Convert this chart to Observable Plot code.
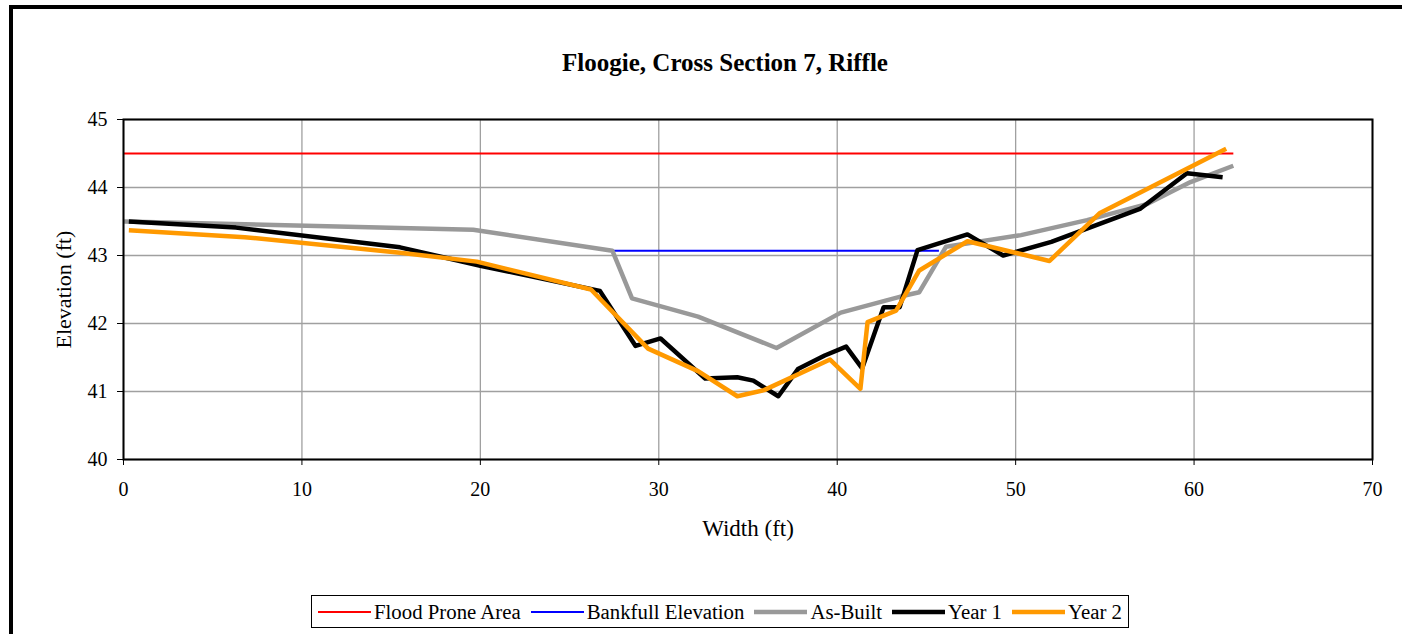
<!DOCTYPE html>
<html>
<head>
<meta charset="utf-8">
<script src="https://cdn.jsdelivr.net/npm/d3@7"></script>
<script src="https://cdn.jsdelivr.net/npm/@observablehq/plot@0.6"></script>
<style>
  html, body { margin: 0; padding: 0; background: #fff; overflow: hidden; }
  #wrap { position: relative; width: 1402px; height: 634px; overflow: hidden; font-family: "Liberation Serif", "Times New Roman", serif; }
  #outer { position: absolute; left: 9px; top: 5px; width: 1500px; height: 700px; border-top: 4px solid #000; border-left: 4px solid #000; }
  #chart { position: absolute; left: 0; top: 0; }
  #legend { position: absolute; left: 311px; top: 595px; width: 818px; height: 33px; border: 1px solid #000; box-sizing: border-box; display: flex; align-items: center; font-size: 20.8px; white-space: nowrap; }
  .item { display: flex; align-items: center; }
  .sw { display: inline-block; margin-right: 3px; }
</style>
</head>
<body>
<div id="wrap">
  <div id="outer"></div>
  <div id="chart"></div>
  <div id="legend"></div>
</div>
<script>
// ---- data ----
const titleText = "Floogie, Cross Section 7, Riffle";
const xLabel = "Width (ft)";
const yLabel = "Elevation (ft)";
const xTicks = [0, 10, 20, 30, 40, 50, 60, 70];
const yTicks = [40, 41, 42, 43, 44, 45];

const seriesNames = ["Flood Prone Area", "Bankfull Elevation", "As-Built", "Year 1", "Year 2"];
const seriesColors = ["#ff0000", "#0000ff", "#999999", "#000000", "#ff9900"];
const seriesWidths = [2, 2, 4.5, 4.5, 4.5];

const floodX = [0, 62.2];
const floodY = [44.5, 44.5];

const bankX = [27.4, 45.7];
const bankY = [43.07, 43.07];

const asBuiltX = [0, 19.6, 27.4, 28.5, 32.2, 36.6, 40.2, 43.6, 44.6, 46.1, 50.3, 54.0, 57.4, 59.8, 62.2];
const asBuiltY = [43.50, 43.38, 43.07, 42.37, 42.10, 41.64, 42.16, 42.40, 42.46, 43.13, 43.30, 43.52, 43.76, 44.08, 44.32];

const year1X = [0.3, 6.3, 15.5, 20.0, 26.7, 28.7, 30.1, 32.6, 34.4, 35.3, 36.7, 37.8, 39.3, 40.5, 41.4, 42.6, 43.5, 44.5, 47.3, 49.3, 52.0, 57.0, 59.6, 61.6];
const year1Y = [43.50, 43.41, 43.12, 42.85, 42.48, 41.67, 41.78, 41.19, 41.21, 41.16, 40.93, 41.33, 41.53, 41.66, 41.34, 42.24, 42.24, 43.08, 43.31, 43.00, 43.20, 43.69, 44.21, 44.15];

const year2X = [0.3, 6.8, 15.5, 19.8, 26.2, 29.4, 32.2, 34.4, 35.9, 39.6, 41.3, 41.7, 43.3, 44.6, 47.3, 51.9, 54.7, 61.8];
const year2Y = [43.37, 43.27, 43.04, 42.91, 42.50, 41.63, 41.30, 40.93, 41.02, 41.47, 41.04, 42.02, 42.19, 42.78, 43.21, 42.92, 43.62, 44.57];

// ---- build tables ----
const seriesXY = [[floodX, floodY], [bankX, bankY], [asBuiltX, asBuiltY], [year1X, year1Y], [year2X, year2Y]];
const rows = seriesXY.map(([xs, ys]) => xs.map((x, i) => ({x, y: ys[i]})));

const font = '"Liberation Serif", "Times New Roman", serif';

const marks = [
  Plot.ruleY(yTicks, {stroke: "#a0a0a0", strokeWidth: 1.3}),
  Plot.ruleX(xTicks, {stroke: "#a0a0a0", strokeWidth: 1.3}),
  Plot.axisY(yTicks, {ticks: yTicks, tickSize: 6, tickPadding: 10, fontSize: 20, label: null, tickFormat: d => String(d)}),
  Plot.axisX(xTicks, {ticks: xTicks, tickSize: 6, tickPadding: 16, fontSize: 20, label: null, tickFormat: d => String(d)}),
];
rows.forEach((data, i) => {
  marks.push(Plot.line(data, {x: "x", y: "y", stroke: seriesColors[i], strokeWidth: seriesWidths[i], strokeLinejoin: "round", strokeLinecap: "butt"}));
});
marks.push(Plot.frame({stroke: "#000", strokeWidth: 2}));
marks.push(Plot.text([titleText], {frameAnchor: "top", dy: -57, dx: -23, fontSize: 25, fontWeight: "bold", fontFamily: font, lineAnchor: "middle", textAnchor: "middle", text: d => d}));
marks.push(Plot.text([xLabel], {frameAnchor: "bottom", dy: 69, fontSize: 23, fontFamily: font, lineAnchor: "middle", textAnchor: "middle", text: d => d}));
marks.push(Plot.text([yLabel], {frameAnchor: "left", dx: -60, rotate: -90, fontSize: 22, fontFamily: font, lineAnchor: "middle", textAnchor: "middle", text: d => d}));

const chart = Plot.plot({
  width: 1402,
  height: 634,
  marginLeft: 123,
  marginRight: 30,
  marginTop: 119,
  marginBottom: 175,
  style: {fontFamily: font, background: "transparent", color: "#000", overflow: "visible"},
  x: {domain: [0, 70]},
  y: {domain: [40, 45]},
  marks
});
document.getElementById("chart").appendChild(chart);

// ---- legend ----
const legend = document.getElementById("legend");
seriesNames.forEach((name, i) => {
  const item = document.createElement("span");
  item.className = "item";
  item.style.marginLeft = i === 0 ? "6px" : "10px";
  const sw = document.createElementNS("http://www.w3.org/2000/svg", "svg");
  sw.setAttribute("width", 53);
  sw.setAttribute("height", 10);
  sw.setAttribute("class", "sw");
  const ln = document.createElementNS("http://www.w3.org/2000/svg", "line");
  ln.setAttribute("x1", 0); ln.setAttribute("x2", 53);
  ln.setAttribute("y1", 5); ln.setAttribute("y2", 5);
  ln.setAttribute("stroke", seriesColors[i]);
  ln.setAttribute("stroke-width", seriesWidths[i]);
  ln.setAttribute("stroke-linecap", i >= 2 ? "round" : "butt");
  sw.appendChild(ln);
  item.appendChild(sw);
  const t = document.createElement("span");
  t.textContent = name;
  item.appendChild(t);
  legend.appendChild(item);
});
</script>
</body>
</html>
